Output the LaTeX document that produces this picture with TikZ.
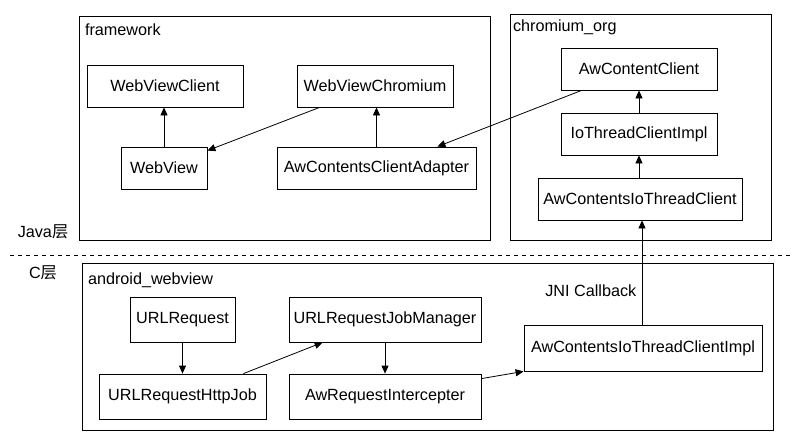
\documentclass[tikz,border=0pt]{standalone}
\usepackage{fontspec}
\setmainfont{Liberation Sans}
\newfontfamily\cjkfont{Noto Sans CJK SC}
\usetikzlibrary{arrows.meta}

\begin{document}
\begin{tikzpicture}[x=1pt, y=-1pt, line width=0.8pt,
    font=\fontsize{16.2}{19}\selectfont,
    box/.style={draw, inner sep=0pt, minimum height=42},
    group/.style={draw, inner sep=0pt},
    grouplabel/.style={anchor=north west, inner sep=2pt},
    link/.style={-{Triangle[length=8pt,width=7pt]}}]
  \useasboundingbox (0,0) rectangle (799,442);

  % Java side
  \node[group, minimum width=411, minimum height=224] (framework) at (284.5,128) {};
  \node[grouplabel] (frameworklabel) at ([xshift=4pt,yshift=-6pt]framework.north west) {framework};
  \node[group, minimum width=261, minimum height=226] (chromiumorg) at (640.5,127) {};
  \node[grouplabel] (chromiumlabel) at ([xshift=1pt,yshift=-4pt]chromiumorg.north west) {chromium\_org};

  \node[box, minimum width=156] (wvclient) at (165,86) {WebViewClient};
  \node[box, minimum width=156] (wvchromium) at (375,86) {WebViewChromium};
  \node[box, minimum width=86] (webview) at (164,168) {WebView};
  \node[box, minimum width=199] (adapter) at (376.5,168) {AwContentsClientAdapter};

  \node[box, minimum width=156] (awclient) at (639,69) {AwContentClient};
  \node[box, minimum width=156] (iothreadimpl) at (639,134) {IoThreadClientImpl};
  \node[box, minimum width=204] (awiothread) at (640,199) {AwContentsIoThreadClient};

  % layer split
  \coordinate (splitleft) at (10,255);
  \coordinate (splitright) at (790,255);
  \draw[dash pattern=on 4pt off 4pt] (splitleft) -- (splitright);
  \node (javalayer) at (43,232) {Java{\cjkfont 层}};
  \node (clayer) at (43,273) {C{\cjkfont 层}};

  % C side
  \node[group, minimum width=691, minimum height=167] (androidwv) at (427.5,346.5) {};
  \node[grouplabel] (androidlabel) at ([xshift=4pt,yshift=-8pt]androidwv.north west) {android\_webview};

  \node[box, minimum width=105, minimum height=45] (urlrequest) at (182.5,319.5) {URLRequest};
  \node[box, minimum width=192, minimum height=45] (jobmanager) at (385,319.5) {URLRequestJobManager};
  \node[box, minimum width=167, minimum height=45] (httpjob) at (182.5,396.5) {URLRequestHttpJob};
  \node[box, minimum width=192, minimum height=45] (intercepter) at (385,396.5) {AwRequestIntercepter};
  \node[box, minimum width=238, minimum height=46] (iothreadclientimpl) at (643,348) {AwContentsIoThreadClientImpl};

  % connectors
  \draw[link] (webview) -- (webview |- wvclient.south);
  \draw[link] ([xshift=23pt]wvchromium.south west) -- ([yshift=-4pt]webview.north east);
  \draw[link] (adapter) -- (adapter |- wvchromium.south);
  \draw[link] ([xshift=21pt]awclient.south west) -- ([xshift=-39pt]adapter.north east);
  \draw[link] (iothreadimpl) -- (awclient);
  \draw[link] (awiothread.north -| iothreadimpl) -- (iothreadimpl);
  \draw[link] ([xshift=-1pt]iothreadclientimpl.north) -- ([xshift=-1pt]iothreadclientimpl.north |- awiothread.south)
    node[pos=0.33, left=2pt] (jnilabel) {JNI Callback};
  \draw[link] (urlrequest) -- (httpjob);
  \draw[link] ([xshift=-23pt]httpjob.north east) -- ([xshift=34pt]jobmanager.south west);
  \draw[link] (jobmanager) -- (intercepter);
  \draw[link] ([yshift=-5pt]intercepter.north east) -- (iothreadclientimpl.south west);
\end{tikzpicture}
\end{document}
